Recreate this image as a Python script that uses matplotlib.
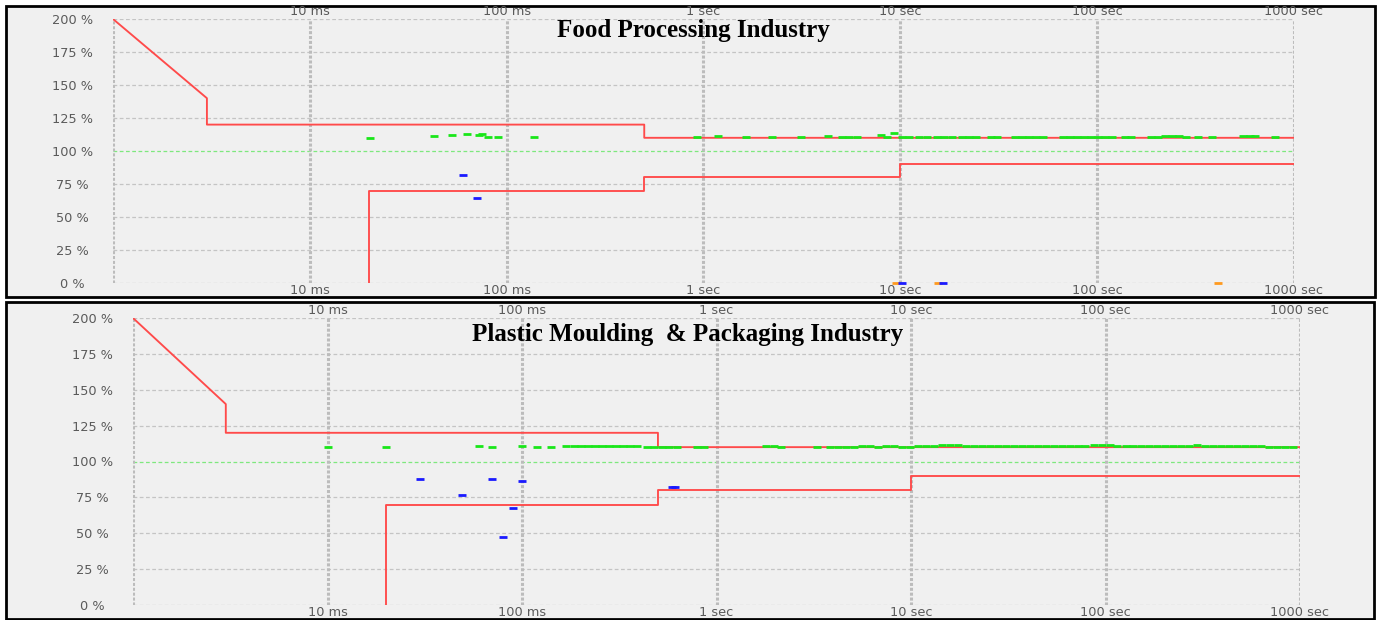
import matplotlib.pyplot as plt
from matplotlib.patches import Rectangle
from matplotlib.ticker import FixedLocator, NullLocator

# tolerance envelope, time in seconds, voltage in % of nominal
upper_t = [0.001, 0.003, 0.003, 0.5, 0.5, 1000]
upper_v = [200, 140, 120, 120, 110, 110]
lower_t = [0.02, 0.02, 0.5, 0.5, 10, 10, 1000]
lower_v = [0, 70, 70, 80, 80, 90, 90]

x_ticks = [0.01, 0.1, 1, 10, 100, 1000]
x_labels = ['10 ms', '100 ms', '1 sec', '10 sec', '100 sec', '1000 sec']
y_ticks = [0, 25, 50, 75, 100, 125, 150, 175, 200]
y_labels = ['0 %', '25 %', '50 %', '75 %', '100 %', '125 %', '150 %', '175 %', '200 %']

# --- Food Processing Industry ---
food_green_t = [0.0202, 0.0426, 0.0526, 0.0629, 0.072, 0.075, 0.080, 0.090, 0.138,
                0.93, 1.18, 1.65, 2.24, 3.14, 4.31, 5.08, 5.5, 6.05, 8.01, 8.6, 9.33,
                10.24, 11.1, 12.5, 13.6, 15.4, 16.7, 18.2, 20.6, 22.4, 24.3, 29.0, 31.1,
                38.4, 41.6, 45.2, 49.0, 53.2, 67.2, 72.9, 79.1, 85.9, 93.2, 101, 110,
                119, 139, 149, 188, 204, 221, 240, 261, 283, 326, 384, 551, 598, 634, 801]
food_green_v = [110.0, 111.4, 112.0, 112.9, 112.5, 112.7, 110.6, 110.6, 110.6,
                110.5, 111.0, 110.5, 110.5, 110.5, 111.0, 110.5, 110.5, 110.5, 112.4, 110.5, 113.6,
                110.5, 110.5, 110.7, 110.5, 110.7, 110.5, 110.5, 110.6, 110.6, 110.5, 110.5, 110.5,
                110.7, 110.7, 110.5, 110.5, 110.5, 110.6, 110.7, 110.6, 110.5, 110.5, 110.7, 110.5,
                110.5, 110.5, 110.5, 110.7, 110.9, 111.3, 111.5, 111.3, 110.8, 110.8, 110.9, 111.0, 111.3, 111.0, 110.8]
food_blue_t = [0.0598, 0.0705, 10.2, 16.5]
food_blue_v = [82, 64.5, 0, 0]
food_orange_t = [9.55, 15.6, 411]
food_orange_v = [0, 0, 0]

# --- Plastic Moulding & Packaging Industry ---
plastic_green_t = [0.010, 0.0201, 0.0601, 0.0702, 0.100, 0.1194, 0.1408, 0.168,
                   0.185, 0.201, 0.218, 0.237, 0.257, 0.279, 0.303, 0.330, 0.358, 0.389,
                   0.4375, 0.475, 0.522, 0.567, 0.624, 0.790, 0.858, 1.80, 1.98, 2.15, 3.30,
                   3.84, 4.22, 4.64, 5.10, 5.61, 6.16, 6.77, 7.44, 8.18, 8.99, 9.88,
                   10.9, 11.9, 13.1, 14.4, 15.8, 17.4, 19.1, 21.0, 23.1, 25.4, 27.9, 30.7,
                   33.7, 37.1, 40.8, 44.8, 49.2, 54.1, 59.5, 65.4, 71.8, 78.9, 86.8, 95.4,
                   105, 115, 127, 139, 153, 168, 185, 203, 223, 245, 270, 296, 326, 358,
                   393, 432, 475, 522, 574, 631, 693, 762, 838, 921]
plastic_green_v = [110.0, 110.0, 110.8, 110.3, 110.8, 110.4, 110.4, 110.5,
                   110.6, 110.6, 110.7, 110.8, 110.8, 110.7, 110.7, 110.6, 110.5, 110.5,
                   110.3, 110.3, 110.2, 110.4, 110.2, 110.0, 110.0, 110.7, 110.7, 110.3, 110.2,
                   110.3, 110.3, 110.4, 110.4, 110.5, 110.5, 110.4, 110.5, 110.5, 110.4, 110.4,
                   110.5, 110.6, 110.8, 111.3, 111.4, 111.3, 110.8, 110.6, 110.8, 111.0, 111.0, 110.7,
                   110.6, 110.7, 110.8, 110.7, 110.6, 110.8, 110.7, 110.8, 110.6, 110.8, 111.2, 111.8,
                   111.3, 111.0, 111.1, 111.0, 111.0, 110.8, 110.6, 110.5, 110.6, 110.8, 111.0, 111.5,
                   110.9, 110.6, 110.7, 110.6, 110.5, 110.7, 110.8, 110.5, 110.4, 110.2, 110.1, 110.3]
plastic_blue_t = [0.0299, 0.049, 0.070, 0.0799, 0.0897, 0.0997, 0.59, 0.61]
plastic_blue_v = [87.8, 77, 88, 47.4, 67.6, 86.4, 82.3, 82.0]

W, H = 1378, 620
GREEN = '#19e619'
BLUE = '#1a1aff'
ORANGE = '#ff9a1f'
RED = '#ff4a4a'
GRID = '#c4c4c4'
TEXT = '#5a5a5a'


def fig_box(x0, y0, x1, y1):
    # pixel box (top-left origin) -> figure fraction rect
    return [x0 / W, 1 - y1 / H, (x1 - x0) / W, (y1 - y0) / H]


def style_axes(ax):
    ax.set_facecolor('none')
    ax.set_xscale('log')
    ax.set_xlim(1e-3, 1e3)
    ax.set_ylim(0, 200)
    for s in ax.spines.values():
        s.set_visible(False)

    ax.xaxis.set_major_locator(FixedLocator(x_ticks))
    ax.xaxis.set_minor_locator(NullLocator())
    ax.set_xticklabels(x_labels)
    ax.set_yticks(y_ticks)
    ax.set_yticklabels(y_labels)
    ax.tick_params(axis='x', length=0, pad=0.5, top=True, labeltop=True,
                   bottom=True, labelbottom=True, labelsize=9.3, labelcolor=TEXT)
    ax.tick_params(axis='y', length=0, pad=29, labelsize=9.3, labelcolor=TEXT)
    for lab in ax.get_yticklabels():
        lab.set_horizontalalignment('center')

    for y in y_ticks:
        if y == 100:
            ax.axhline(y, color='#7ee87e', lw=0.9, ls=(0, (3, 2)), zorder=1)
        else:
            ax.axhline(y, color=GRID, lw=0.9, ls=(0, (3, 2)), zorder=1)
    for x in [1e-3] + x_ticks:
        ax.axvline(x, color='#bcbcbc', lw=2.2, ls=(0, (1, 0.6)), zorder=1)


def plot_panel(ax, green_t, green_v, blue_t, blue_v, orange_t=None, orange_v=None):
    style_axes(ax)
    ax.plot(upper_t, upper_v, color=RED, lw=1.35, zorder=3)
    ax.plot(lower_t, lower_v, color=RED, lw=1.35, zorder=3)
    mk = dict(ls='none', marker='_', ms=5.5, mew=2.0, zorder=4, clip_on=False)
    ax.plot(green_t, green_v, color=GREEN, **mk)
    if orange_t:
        ax.plot(orange_t, orange_v, color=ORANGE, **mk)
    ax.plot(blue_t, blue_v, color=BLUE, **mk)


fig = plt.figure(figsize=(W / 100, H / 100), dpi=100)

# panel frames, kept behind the axes
for x0, y0, x1, y1 in [(6, 6, 1375, 297), (6, 302, 1374, 619)]:
    fig.patches.append(Rectangle((x0 / W, 1 - y1 / H), (x1 - x0) / W, (y1 - y0) / H,
                                 transform=fig.transFigure, facecolor='#f0f0f0',
                                 edgecolor='black', lw=2, zorder=-5))

ax_top = fig.add_axes(fig_box(113, 19, 1294, 283))
ax_bot = fig.add_axes(fig_box(133, 318, 1300, 605))

plot_panel(ax_top, food_green_t, food_green_v, food_blue_t, food_blue_v,
           food_orange_t, food_orange_v)
plot_panel(ax_bot, plastic_green_t, plastic_green_v, plastic_blue_t, plastic_blue_v)

title_kw = dict(ha='center', va='center', fontsize=18, fontweight='bold',
                family='Liberation Serif', color='black', zorder=10)
fig.text(693 / W, 1 - 30 / H, 'Food Processing Industry', **title_kw)
fig.text(688 / W, 1 - 334 / H, 'Plastic Moulding  & Packaging Industry', **title_kw)

fig.savefig('out.png', dpi=100)
